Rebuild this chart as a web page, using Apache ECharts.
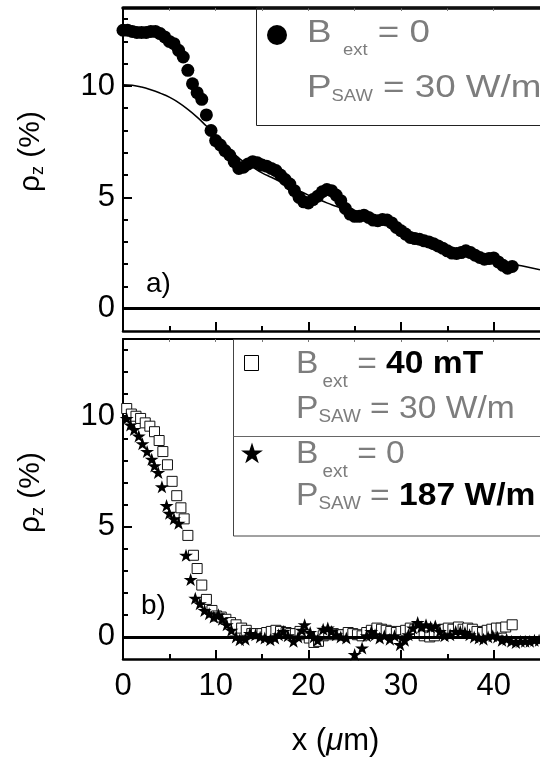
<!DOCTYPE html>
<html>
<head>
<meta charset="utf-8">
<script src="https://cdn.jsdelivr.net/npm/echarts@6/dist/echarts.min.js"></script>
<style>
  html, body { margin: 0; padding: 0; background: #fff; }
  #main { width: 540px; height: 758px; }
</style>
</head>
<body>
<div id="main"></div>
<script>
const FONT = 'Liberation Sans, Arial, Helvetica, sans-serif';

// axis ticks
const xTicks = [0, 10, 20, 30, 40];
const xMinorTicks = [5, 15, 25, 35];
const xTopTicks = [5, 10, 15, 20, 25, 30, 35, 40];
const yTicks = [0, 5, 10];
const yMinorTicks = [1, 2, 3, 4, 6, 7, 8, 9, 11, 12, 13];

// a) B_ext = 0, P_SAW = 30 W/m  (filled circles)
const circlesA = [[0,12.5],[0.5,12.5],[1,12.45],[1.5,12.4],[2,12.4],[2.5,12.4],[3,12.45],[3.5,12.45],
  [4,12.35],[4.5,12.2],[5,12.0],[5.5,11.9],[6,11.6],[6.5,11.3],[7,10.7],[7.5,10.1],[8,9.7],[8.5,9.4],
  [9,8.7],[9.5,8.0],[10,7.55],[10.5,7.35],[11,7.1],[11.5,6.9],[12,6.6],[12.5,6.3],[13,6.35],[13.5,6.5],
  [14,6.6],[14.5,6.55],[15,6.45],[15.5,6.4],[16,6.3],[16.5,6.2],[17,6.0],[17.5,5.8],[18,5.6],[18.5,5.3],
  [19,5.0],[19.5,4.8],[20,4.75],[20.5,4.9],[21,5.05],[21.5,5.25],[22,5.35],[22.5,5.3],[23,5.1],[23.5,4.85],
  [24,4.5],[24.5,4.25],[25,4.15],[25.5,4.15],[26,4.2],[26.5,4.1],[27,3.98],[27.5,3.95],[28,4.0],[28.5,3.98],
  [29,3.85],[29.5,3.65],[30,3.5],[30.5,3.35],[31,3.2],[31.5,3.15],[32,3.12],[32.5,3.05],[33,3.0],[33.5,2.92],
  [34,2.82],[34.5,2.72],[35,2.6],[35.5,2.5],[36,2.48],[36.5,2.52],[37,2.6],[37.5,2.52],[38,2.4],[38.5,2.3],
  [39,2.22],[39.5,2.25],[40,2.28],[40.5,2.1],[41,1.95],[41.5,1.82],[42,1.9]];

// a) fitted curve
const fitA = [[0,10.06],[1,10.03],[2,9.95],[3,9.83],[4,9.68],[5,9.5],[6,9.25],[7,8.95],[8,8.6],[9,8.2],
  [10,7.8],[11,7.35],[12,6.95],[13,6.6],[14,6.35],[15,6.1],[16,5.9],[17,5.7],[18,5.5],[19,5.3],[20,5.1],
  [21,4.93],[22,4.75],[23,4.6],[24,4.45],[25,4.3],[26,4.15],[27,4.0],[28,3.85],[29,3.7],[30,3.55],[31,3.4],
  [32,3.25],[33,3.1],[34,2.95],[35,2.8],[36,2.67],[37,2.55],[38,2.43],[39,2.32],[40,2.22],[41,2.12],
  [42,2.02],[43,1.93],[44,1.84],[45,1.75]];

// b) B_ext = 40 mT, P_SAW = 30 W/m  (open squares)
const squaresB = [[0.4,10.35],[0.9,10.1],[1.4,10.0],[1.9,9.9],[2.4,9.7],[2.9,9.55],[3.4,9.3],[3.9,8.9],
  [4.3,8.4],[4.8,7.8],[5.3,7.05],[5.8,6.4],[6.25,5.85],[6.6,5.35],[7.0,4.6],[7.6,3.7],[8.0,3.1],[8.5,2.35],
  [9.0,1.7],[9.6,1.2],[10.1,0.95],[10.6,0.9],[11.1,0.8],[11.6,0.65],[12.2,0.55],[12.8,0.4],[13.3,0.3],
  [13.9,0.15],[14.4,0.15],[15.0,0.15],[15.5,0.2],[16.0,0.25],[16.5,0.3],[17.0,0.25],[17.6,0.2],[18.1,0.15],
  [18.6,0.15],[19.1,0.25],[19.6,0.1],[20.1,-0.05],[20.6,-0.25],[21.1,-0.2],[21.6,0.05],[22.2,0.1],
  [22.7,0.15],[23.2,0.1],[23.7,0.1],[24.3,0.2],[24.8,0.15],[25.3,0.1],[25.8,0.05],[26.3,0.2],[26.8,0.3],
  [27.4,0.4],[27.9,0.35],[28.4,0.3],[28.9,0.25],[29.5,0.2],[30.0,0.25],[30.5,0.3],[31.0,0.4],[31.5,0.35],
  [32.0,0.2],[32.5,0.05],[33.1,0.0],[33.6,0.05],[34.1,0.2],[34.6,0.35],[35.1,0.4],[35.6,0.35],[36.2,0.45],
  [36.7,0.35],[37.2,0.4],[37.7,0.35],[38.2,0.25],[38.8,0.2],[39.3,0.3],[39.8,0.35],[40.3,0.4],[40.8,0.4],
  [41.3,0.45],[42.0,0.55]];

// b) B_ext = 0, P_SAW = 187 W/m  (stars)
const starsB = [[0.4,9.9],[0.8,9.6],[1.2,9.4],[1.7,9.1],[2.1,8.75],[2.6,8.4],[3.1,8.05],[3.4,7.75],
  [3.8,7.45],[4.2,6.8],[4.7,5.95],[5.0,5.6],[5.5,5.35],[6.0,5.15],[6.8,3.7],[7.3,2.6],[7.8,1.75],
  [8.3,1.5],[8.8,1.2],[9.3,1.05],[9.8,0.9],[10.3,1.0],[10.7,0.8],[11.2,0.55],[11.7,0.3],[12.2,0.0],
  [12.6,-0.13],[13.2,-0.1],[13.7,0.15],[14.3,0.1],[14.8,0.0],[15.3,-0.05],[15.9,-0.13],[16.4,-0.05],
  [16.8,0.1],[17.3,0.25],[17.8,0.05],[18.4,-0.2],[18.9,0.0],[19.3,0.3],[19.6,0.55],[20.2,0.2],[20.6,0.0],
  [21.0,-0.15],[21.6,0.35],[22.1,0.4],[22.5,0.25],[23.0,0.1],[23.5,0.0],[24.1,-0.05],[25.0,-0.8],
  [25.8,-0.5],[26.3,0.05],[26.8,0.25],[27.2,0.1],[27.7,-0.05],[28.2,0.05],[28.8,-0.1],[29.3,0.05],
  [29.9,-0.35],[30.4,-0.15],[30.8,0.1],[31.3,0.4],[31.8,0.65],[32.2,0.45],[32.7,0.55],[33.2,0.45],
  [33.7,0.5],[34.2,0.25],[34.7,0.05],[35.3,0.1],[35.9,0.25],[36.4,0.25],[36.9,0.2],[37.4,0.1],[37.9,0.0],
  [38.4,-0.05],[38.9,-0.1],[39.4,0.0],[39.9,0.05],[40.4,0.0],[40.9,-0.15],[41.4,-0.1],[41.9,-0.2],
  [42.4,-0.25],[42.9,-0.2],[43.4,-0.2],[43.9,-0.2],[44.4,-0.15],[44.9,-0.15]];

const STAR = 'path://M0,-11.5L2.59,-3.56L10.94,-3.55L4.18,1.36L6.76,9.3L0,4.4L-6.76,9.3L-4.18,1.36L-10.94,-3.55L-2.59,-3.56Z';
const GRAY = '#7d7d7d';

const chart = echarts.init(document.getElementById('main'), null, {renderer: 'canvas'});

function xAxesFor(g, withLabels) {
  const base = {gridIndex: g, type: 'value', min: 0, max: 45, splitLine: {show: false}};
  return [
    Object.assign({}, base, {
      position: 'bottom',
      axisLine: {onZero: false, lineStyle: {color: '#000', width: 2.5}},
      axisTick: {inside: true, length: 9, customValues: xTicks, lineStyle: {color: '#000', width: 2}},
      axisLabel: withLabels
        ? {customValues: xTicks, color: '#000', fontSize: 31, fontFamily: FONT, margin: 12}
        : {show: false},
      name: withLabels ? '{n|x (}{i|\u03bc}{n|m)}' : '',
      nameLocation: 'middle',
      nameGap: 67,
      nameTextStyle: {
        padding: [0, 0, 0, 8],
        rich: {
          n: {fontSize: 31, fontFamily: FONT, color: '#000'},
          i: {fontSize: 31, fontFamily: FONT, color: '#000', fontStyle: 'italic'}
        }
      }
    }),
    Object.assign({}, base, {
      position: 'bottom',
      axisLine: {show: false, onZero: false},
      axisTick: {inside: true, length: 5, customValues: xMinorTicks, lineStyle: {color: '#000', width: 2}},
      axisLabel: {show: false}
    }),
    Object.assign({}, base, {
      position: 'top',
      axisLine: {onZero: false, lineStyle: {color: '#000', width: g === 0 ? 3.5 : 2}},
      axisTick: {inside: true, length: 3, customValues: xTopTicks, lineStyle: {color: '#777', width: 1}},
      axisLabel: {show: false}
    })
  ];
}

function yAxesFor(g, namePad) {
  const base = {gridIndex: g, type: 'value', min: -1, max: 13.5, position: 'left', splitLine: {show: false}};
  return [
    Object.assign({}, base, {
      axisLine: {onZero: false, lineStyle: {color: '#000', width: 2}},
      axisTick: {inside: true, length: 9, customValues: yTicks, lineStyle: {color: '#000', width: 2}},
      axisLabel: {customValues: yTicks, color: '#000', fontSize: 31, fontFamily: FONT, margin: 8},
      name: '{r|\u03c1}{s|z}{r| (%)}',
      nameLocation: 'middle',
      nameGap: 76,
      nameTextStyle: {
        padding: [0, 0, 0, namePad],
        rich: {
          r: {fontSize: 30, fontFamily: FONT, color: '#000'},
          s: {fontSize: 18, fontFamily: FONT, color: '#000', padding: [14, 0, 0, 0]}
        }
      }
    }),
    Object.assign({}, base, {
      axisLine: {show: false, onZero: false},
      axisTick: {inside: true, length: 5, customValues: yMinorTicks, lineStyle: {color: '#000', width: 2}},
      axisLabel: {show: false}
    })
  ];
}

const zeroLine = {
  silent: true,
  symbol: ['none', 'none'],
  label: {show: false},
  lineStyle: {color: '#000', width: 3, type: 'solid'},
  data: [{yAxis: 0}]
};

// legend text helpers
function richFor(subSize, extPad) {
  return {
    g: {fontSize: 32, fontFamily: FONT, color: GRAY, fill: GRAY},
    b: {fontSize: 32, fontFamily: FONT, color: '#000', fill: '#000', fontWeight: 'bold'},
    e: {fontSize: subSize, fontFamily: FONT, color: GRAY, fill: GRAY, padding: [35, 0, 0, extPad]},
    w: {fontSize: subSize, fontFamily: FONT, color: GRAY, fill: GRAY, padding: [16, 0, 0, 0]}
  };
}
const richTop = richFor(16, 10);
const richBottom = richFor(18, 4);
function legendLine(text, x, y, sx, rich) {
  return {
    type: 'text', x: x, y: y, scaleX: sx, z: 100,
    style: {text: text, rich: rich, font: '32px ' + FONT, fill: GRAY, verticalAlign: 'top'}
  };
}

const option = {
  animation: false,
  backgroundColor: '#fff',
  grid: [
    {left: 123, top: 8, right: -3, height: 323},
    {left: 123, top: 339, right: -3, height: 323}
  ],
  xAxis: xAxesFor(0, false).concat(xAxesFor(1, true)),
  yAxis: yAxesFor(0, 36).concat(yAxesFor(1, 13)),
  series: [
    {
      name: 'fit', type: 'line', xAxisIndex: 0, yAxisIndex: 0, data: fitA,
      smooth: true, showSymbol: false, symbol: 'none', z: 3,
      lineStyle: {color: '#000', width: 1.5},
      markLine: zeroLine
    },
    {
      name: 'B=0, P=30', type: 'scatter', xAxisIndex: 0, yAxisIndex: 0, data: circlesA,
      symbol: 'circle', symbolSize: 13, z: 4,
      itemStyle: {color: '#000', opacity: 1}
    },
    {
      name: 'B=40mT, P=30', type: 'scatter', xAxisIndex: 3, yAxisIndex: 2, data: squaresB,
      symbol: 'rect', symbolSize: 10, z: 4,
      itemStyle: {color: '#fff', borderColor: '#111', borderWidth: 1, opacity: 1},
      markLine: zeroLine
    },
    {
      name: 'B=0, P=187', type: 'scatter', xAxisIndex: 3, yAxisIndex: 2, data: starsB,
      symbol: STAR, symbolSize: [14, 13], z: 5,
      itemStyle: {color: '#000', opacity: 1}
    }
  ],
  graphic: [
    // legend a)
    {type: 'rect', z: 90, shape: {x: 256.5, y: 8, width: 300, height: 117.5},
      style: {fill: 'transparent', stroke: '#222', lineWidth: 1}},
    {type: 'circle', z: 100, shape: {cx: 277, cy: 35, r: 10}, style: {fill: '#000'}},
    legendLine('{g|B}{e|ext}{g| = 0}', 307, 8, 1.15, richTop),
    legendLine('{g|P}{w|SAW}{g| = 30 W/m}', 307, 72.5, 1.15, richTop),
    // legend b)
    {type: 'rect', z: 90, shape: {x: 233.5, y: 339.5, width: 320, height: 196.5},
      style: {fill: 'transparent', stroke: '#444', lineWidth: 1}},
    {type: 'line', z: 90, shape: {x1: 233.5, y1: 436.5, x2: 545, y2: 436.5},
      style: {stroke: '#666', lineWidth: 1}},
    {type: 'rect', z: 100, shape: {x: 244.5, y: 355.5, width: 14, height: 15},
      style: {fill: '#fff', stroke: '#000', lineWidth: 1}},
    {type: 'polygon', z: 100, x: 252, y: 454,
      shape: {points: [[0,-11.5],[2.59,-3.56],[10.94,-3.55],[4.18,1.36],[6.76,9.3],[0,4.4],
        [-6.76,9.3],[-4.18,1.36],[-10.94,-3.55],[-2.59,-3.56]]},
      style: {fill: '#000'}},
    legendLine('{g|B}{e|ext}{g| = }{b|40 mT}', 296, 338, 1.05, richBottom),
    legendLine('{g|P}{w|SAW}{g| = 30 W/m}', 296, 392.5, 1.05, richBottom),
    legendLine('{g|B}{e|ext}{g| = 0}', 296, 428, 1.05, richBottom),
    legendLine('{g|P}{w|SAW}{g| = }{b|187 W/m}', 296, 479.5, 1.05, richBottom),
    // panel labels
    {type: 'text', z: 100, x: 146, y: 270,
      style: {text: 'a)', font: '28px ' + FONT, fill: '#000', verticalAlign: 'top'}},
    {type: 'text', z: 100, x: 141, y: 592,
      style: {text: 'b)', font: '28px ' + FONT, fill: '#000', verticalAlign: 'top'}}
  ]
};

chart.setOption(option);
</script>
</body>
</html>
